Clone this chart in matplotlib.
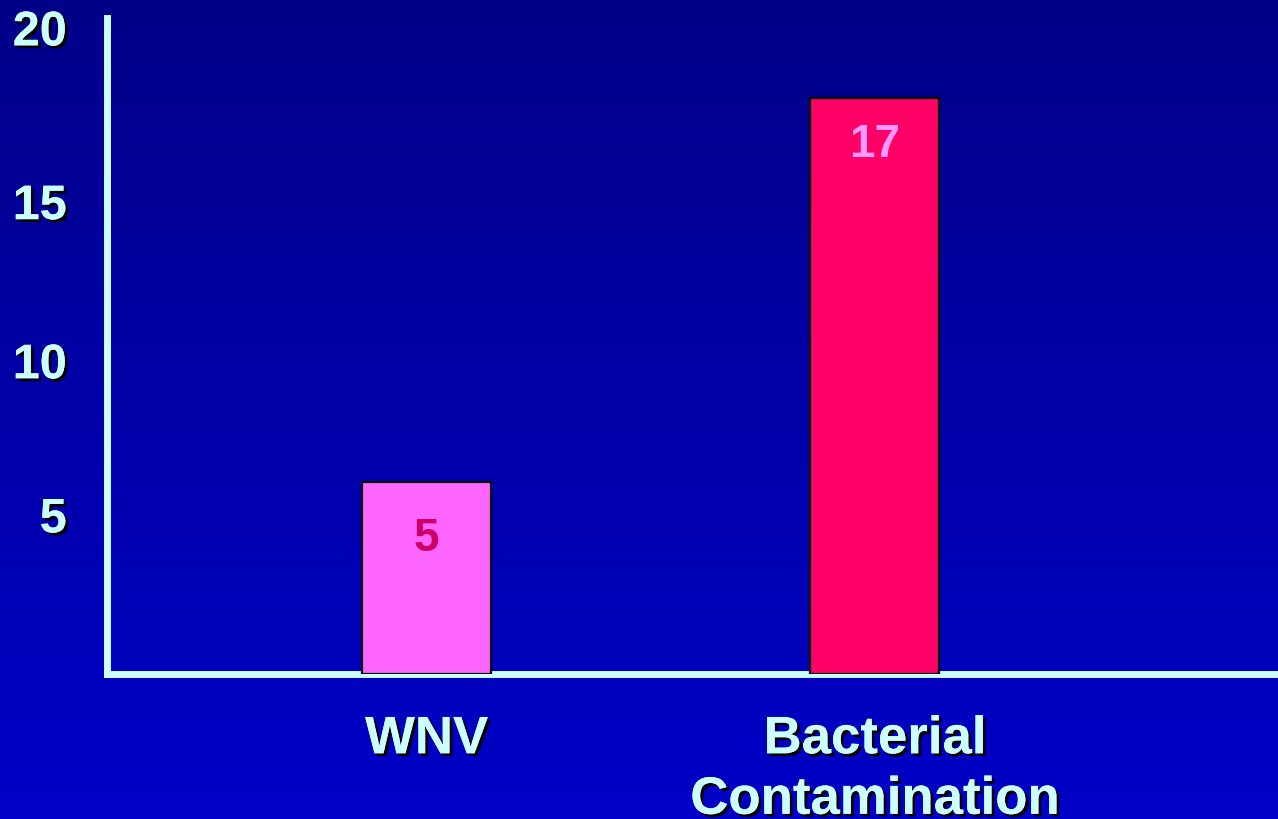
import numpy as np
import matplotlib
matplotlib.use('Agg')
import matplotlib.pyplot as plt
import matplotlib.patheffects as pe

# data
categories = ['WNV', 'Bacterial\nContamination']
bar_heights = [5.85, 17.55]      # drawn heights as they appear against the axis
bar_labels = ['5', '17']
label_values = [5, 17]
tick_labels = ['5', '10', '15', '20']
tick_positions = [4.85, 9.55, 14.4, 19.7]

bar_colors = ['#FF66FF', '#FF0066']
text_colors = ['#CC0066', '#FF99FF']
axis_color = '#CCFFFF'

plt.rcParams['font.family'] = ['Liberation Sans', 'DejaVu Sans']
plt.rcParams['font.weight'] = 'bold'

fig = plt.figure(figsize=(12.78, 8.2), dpi=100)

# gradient background
bg = fig.add_axes([0, 0, 1, 1], zorder=-10)
grad = np.linspace(0, 1, 256).reshape(-1, 1)
top = np.array([0x00, 0x00, 0x88]) / 255
bottom = np.array([0x00, 0x00, 0xC8]) / 255
img = top + (bottom - top) * grad[:, :, None]
bg.imshow(img, aspect='auto', extent=[0, 1, 0, 1])
bg.axis('off')

shadow = [pe.withSimplePatchShadow(offset=(2, -2), shadow_rgbFace='black', alpha=1.0), pe.Normal()]

ax = fig.add_axes([107 / 1278, 145 / 820, 1171 / 1278, 656 / 820])
ax.patch.set_alpha(0)

x = np.arange(len(categories))
ax.bar(x, bar_heights, width=0.288, color=bar_colors, edgecolor='black', linewidth=1.6, zorder=3)

for i in range(len(x)):
    ax.text(x[i], label_values[i] - 0.85, bar_labels[i], ha='center', va='center',
            fontsize=33, fontweight='bold', color=text_colors[i], zorder=4)

ax.set_xlim(-0.713, 1.9)
ax.set_ylim(0, 20)

for s in ['top', 'right']:
    ax.spines[s].set_visible(False)
for s in ['left', 'bottom']:
    ax.spines[s].set_color(axis_color)
    ax.spines[s].set_linewidth(5)
    ax.spines[s].set_zorder(2)

ax.set_yticks(tick_positions)
ax.set_yticklabels(tick_labels)
ax.set_xticks(x)
ax.set_xticklabels(categories, linespacing=1.27)
ax.tick_params(axis='y', length=0, pad=29, labelsize=35, labelcolor=axis_color)
ax.tick_params(axis='x', length=0, pad=29, labelsize=38, labelcolor=axis_color)
for lbl in ax.get_yticklabels() + ax.get_xticklabels():
    lbl.set_fontweight('bold')
    lbl.set_path_effects(shadow)

fig.savefig('out.png', dpi=100)
